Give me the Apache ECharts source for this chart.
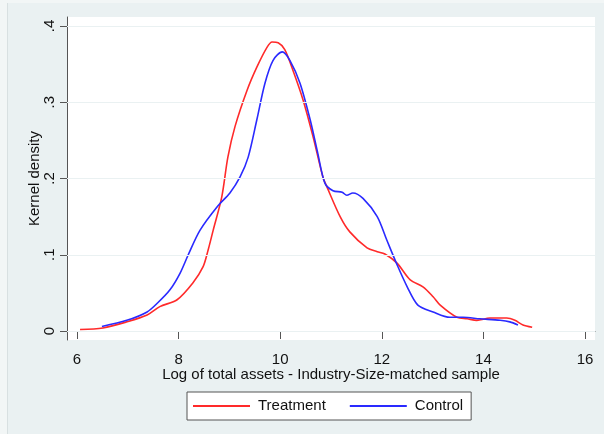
<!DOCTYPE html>
<html>
<head>
<meta charset="utf-8">
<script src="https://cdn.jsdelivr.net/npm/echarts@6/dist/echarts.min.js"></script>
<style>
    html, body { margin: 0; padding: 0; background: #f2f6f6; }
    #chart { width: 604px; height: 434px; }
</style>
</head>
<body>
<div id="chart"></div>
<script>
// 刻度
const xTicks = [6, 8, 10, 12, 14, 16]
const yTicks = [0, 0.1, 0.2, 0.3, 0.4]

// Treatment 曲线 (x, 密度)
const treatX = [6.06, 6.51, 6.98, 7.38, 7.63, 7.97, 8.28, 8.48, 8.58, 8.68, 8.85, 8.97, 9.11, 9.35, 9.54, 9.74, 9.84, 9.96, 10.09, 10.25, 10.45, 10.65, 10.84, 10.92, 11.18, 11.37, 11.71, 11.91, 12.06, 12.30, 12.56, 12.81, 13.01, 13.15, 13.48, 13.68, 13.87, 14.13, 14.46, 14.62, 14.78, 14.96]
const treatY = [0.002, 0.004, 0.012, 0.021, 0.032, 0.041, 0.063, 0.084, 0.106, 0.132, 0.176, 0.228, 0.268, 0.316, 0.346, 0.372, 0.379, 0.378, 0.369, 0.342, 0.303, 0.254, 0.202, 0.189, 0.150, 0.130, 0.109, 0.104, 0.101, 0.089, 0.067, 0.058, 0.045, 0.034, 0.018, 0.016, 0.014, 0.017, 0.017, 0.014, 0.008, 0.005]

// Control 曲线
const ctrlX = [6.49, 6.98, 7.38, 7.59, 7.83, 8.03, 8.19, 8.42, 8.76, 9.01, 9.21, 9.37, 9.54, 9.70, 9.86, 10.04, 10.19, 10.39, 10.59, 10.74, 10.88, 11.04, 11.22, 11.31, 11.43, 11.63, 11.91, 12.10, 12.30, 12.50, 12.71, 13.01, 13.34, 13.60, 13.93, 14.33, 14.52, 14.68]
const ctrlY = [0.006, 0.014, 0.025, 0.037, 0.054, 0.076, 0.100, 0.132, 0.163, 0.181, 0.202, 0.228, 0.277, 0.325, 0.355, 0.366, 0.355, 0.325, 0.277, 0.233, 0.194, 0.184, 0.182, 0.178, 0.181, 0.174, 0.150, 0.119, 0.087, 0.058, 0.034, 0.025, 0.018, 0.018, 0.016, 0.014, 0.012, 0.008]

const pair = (xs, ys) => xs.map((x, i) => [x, ys[i]])
const font = 'Liberation Sans'

let myChart = echarts.init(document.getElementById('chart'))
myChart.setOption({
    animation: false,
    backgroundColor: '#eaf1f2',
    textStyle: { fontFamily: font },
    graphic: [
        { type: 'rect', shape: { x: 0, y: 0, width: 7, height: 434 }, style: { fill: '#f2f6f6' }, silent: true },
        { type: 'rect', shape: { x: 0, y: 0, width: 604, height: 3 }, style: { fill: '#f2f6f6' }, silent: true },
        { type: 'line', shape: { x1: 7.5, y1: 3, x2: 7.5, y2: 434 }, style: { stroke: '#d8e0e1', lineWidth: 1 }, silent: true }
    ],
    grid: { // 图表区域
        left: 67,
        right: 9,
        top: 17,
        bottom: 94,
        show: true,
        backgroundColor: '#ffffff',
        borderWidth: 0
    },
    legend: {
        left: 187,
        top: 392,
        padding: [6, 8, 6, 6],
        icon: 'rect',
        itemWidth: 57,
        itemHeight: 2,
        itemGap: 24,
        backgroundColor: '#ffffff',
        borderColor: '#555555',
        borderWidth: 1,
        textStyle: { fontSize: 15, lineHeight: 16, color: '#111', fontFamily: font, padding: [0, 0, 0, 3] },
        data: ['Treatment', 'Control']
    },
    xAxis: {
        type: 'value',
        min: 5.803,
        max: 16.197,
        name: 'Log of total assets - Industry-Size-matched sample',
        nameLocation: 'middle',
        nameGap: 27,
        nameMoveOverlap: false,
        nameTextStyle: { fontSize: 15, color: '#111', fontFamily: font },
        axisLine: { show: true, lineStyle: { color: '#555', width: 1 } },
        axisTick: { show: true, length: 8, customValues: xTicks, lineStyle: { color: '#555' } },
        axisLabel: { customValues: xTicks, fontSize: 15, color: '#111', margin: 12, fontFamily: font },
        splitLine: { show: false }
    },
    yAxis: {
        type: 'value',
        min: -0.0118,
        max: 0.4118,
        name: 'Kernel density',
        nameLocation: 'middle',
        nameGap: 25,
        nameMoveOverlap: false,
        nameTextStyle: { fontSize: 15, color: '#111', fontFamily: font },
        axisLine: { show: true, lineStyle: { color: '#555', width: 1 } },
        axisTick: { show: true, length: 7, customValues: yTicks, lineStyle: { color: '#555' } },
        axisLabel: {
            customValues: yTicks,
            rotate: 90,
            fontSize: 15,
            color: '#111',
            margin: 10,
            fontFamily: font,
            formatter: v => v === 0 ? '0' : String(Math.round(v * 10) / 10).replace(/^0/, '')
        },
        splitLine: { show: false }
    },
    series: [
        {
            name: 'Treatment',
            type: 'line',
            data: pair(treatX, treatY),
            smooth: 0.3,
            symbol: 'none',
            lineStyle: { color: '#ff2a2a', width: 1.6 },
            itemStyle: { color: '#ff2a2a' },
            z: 3,
            markLine: { // 网格线
                silent: true,
                symbol: 'none',
                label: { show: false },
                lineStyle: { color: '#eaf1f2', type: 'solid', width: 1 },
                data: yTicks.map(v => ({ yAxis: v }))
            }
        },
        {
            name: 'Control',
            type: 'line',
            data: pair(ctrlX, ctrlY),
            smooth: 0.3,
            symbol: 'none',
            lineStyle: { color: '#2a2aff', width: 1.6 },
            itemStyle: { color: '#2a2aff' },
            z: 4
        }
    ]
})
</script>
</body>
</html>
